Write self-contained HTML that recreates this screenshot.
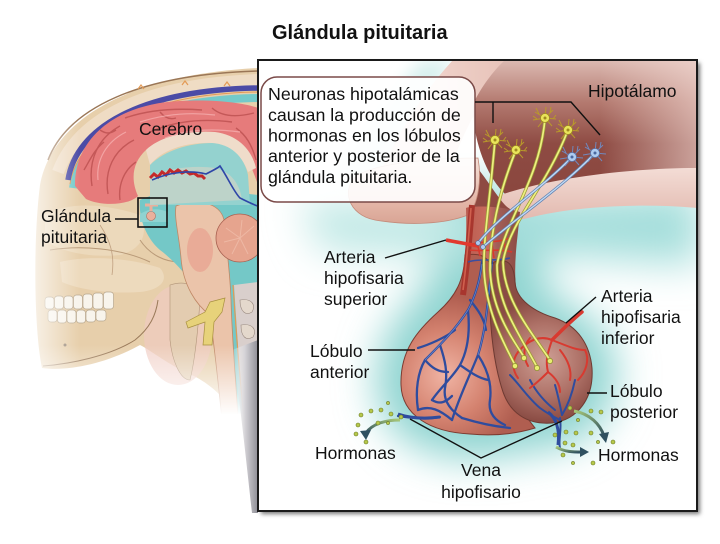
<!DOCTYPE html>
<html><head><meta charset="utf-8">
<style>
html,body{margin:0;padding:0;background:#fff;}
svg{display:block;}
text{font-family:"Liberation Sans",Arial,sans-serif;fill:#111;}
</style></head><body>
<svg width="720" height="544" viewBox="0 0 720 544" xmlns="http://www.w3.org/2000/svg">
<defs>
  <filter id="b20" x="-50%" y="-50%" width="200%" height="200%"><feGaussianBlur stdDeviation="20"/></filter>
  <filter id="b8" x="-50%" y="-50%" width="200%" height="200%"><feGaussianBlur stdDeviation="8"/></filter>
  <filter id="b2" x="-10%" y="-10%" width="120%" height="120%"><feGaussianBlur stdDeviation="2"/></filter>
  <linearGradient id="fadeL" x1="0" x2="1" y1="0" y2="0">
    <stop offset="0" stop-color="#fff" stop-opacity="1"/>
    <stop offset="0.35" stop-color="#fff" stop-opacity="0.8"/>
    <stop offset="1" stop-color="#fff" stop-opacity="0"/>
  </linearGradient>
  <linearGradient id="fadeB" x1="0" x2="0" y1="0" y2="1">
    <stop offset="0" stop-color="#fff" stop-opacity="0"/>
    <stop offset="1" stop-color="#fff" stop-opacity="1"/>
  </linearGradient>
  <linearGradient id="neck" x1="0" x2="1" y1="0" y2="0">
    <stop offset="0" stop-color="#ffffff" stop-opacity="0"/>
    <stop offset="0.5" stop-color="#d4d2d6"/>
    <stop offset="1" stop-color="#8e8e96"/>
  </linearGradient>
  <linearGradient id="hypo" x1="0" x2="0" y1="60" y2="200" gradientUnits="userSpaceOnUse">
    <stop offset="0" stop-color="#dcbab2"/>
    <stop offset="0.3" stop-color="#b47a70"/>
    <stop offset="0.6" stop-color="#8e4b43"/>
    <stop offset="1" stop-color="#8a463e"/>
  </linearGradient>
  <linearGradient id="hypoR" x1="600" x2="697" y1="0" y2="0" gradientUnits="userSpaceOnUse">
    <stop offset="0" stop-color="#f4dcd6" stop-opacity="0"/>
    <stop offset="1" stop-color="#f4dcd6" stop-opacity="0.6"/>
  </linearGradient>
  <linearGradient id="chiasm" x1="0" x2="0" y1="158" y2="224" gradientUnits="userSpaceOnUse">
    <stop offset="0" stop-color="#f5e0d8"/>
    <stop offset="0.5" stop-color="#e9c0b2"/>
    <stop offset="1" stop-color="#d9a494"/>
  </linearGradient>
  <linearGradient id="pale" x1="0" x2="0" y1="168" y2="222" gradientUnits="userSpaceOnUse">
    <stop offset="0" stop-color="#f3dcd5"/>
    <stop offset="1" stop-color="#e2b8ae"/>
  </linearGradient>
  <linearGradient id="pinkband" x1="0" x2="1" y1="0" y2="0">
    <stop offset="0" stop-color="#f4dcd6"/>
    <stop offset="1" stop-color="#e7c2b8"/>
  </linearGradient>
  <radialGradient id="ant" cx="445" cy="375" r="80" gradientUnits="userSpaceOnUse">
    <stop offset="0" stop-color="#f0b4a4"/>
    <stop offset="0.55" stop-color="#d4826f"/>
    <stop offset="1" stop-color="#b05e50"/>
  </radialGradient>
  <radialGradient id="post" cx="545" cy="360" r="62" gradientUnits="userSpaceOnUse">
    <stop offset="0" stop-color="#cfa096"/>
    <stop offset="0.6" stop-color="#ad7066"/>
    <stop offset="1" stop-color="#8a4c44"/>
  </radialGradient>
  <linearGradient id="stalk" x1="462" x2="520" y1="0" y2="0" gradientUnits="userSpaceOnUse">
    <stop offset="0" stop-color="#b85a4e"/>
    <stop offset="0.45" stop-color="#c86c5e"/>
    <stop offset="0.6" stop-color="#a2605a"/>
    <stop offset="1" stop-color="#8c4a42"/>
  </linearGradient>
  <linearGradient id="arrL" x1="1" x2="0" y1="0" y2="1">
    <stop offset="0" stop-color="#a8c878"/>
    <stop offset="1" stop-color="#2f5060"/>
  </linearGradient>
  <linearGradient id="arrR" x1="0" x2="1" y1="0" y2="1">
    <stop offset="0" stop-color="#a8c878"/>
    <stop offset="1" stop-color="#2f5060"/>
  </linearGradient>
  <clipPath id="boxclip"><rect x="259" y="61" width="437" height="449"/></clipPath>
  <g id="ny">
    <path d="M0,0 L-10,-6 M-6,-4 L-9,-10 M0,0 L-12,2 M-8,1 L-12,-2 M0,0 L-7,9 M0,0 L8,-8 M5,-5 L6,-11 M0,0 L11,1 M8,1 L11,-3 M0,0 L7,8 M0,0 L1,-11" stroke="#b9992a" stroke-width="1" fill="none"/>
    <circle r="4.5" fill="#e9e45a" stroke="#9f8a22" stroke-width="0.8"/>
    <circle r="1.5" fill="#a08a20"/>
  </g>
  <g id="nb">
    <path d="M0,0 L-10,-6 M-6,-4 L-9,-10 M0,0 L-12,2 M0,0 L-7,9 M0,0 L8,-8 M5,-5 L6,-11 M0,0 L11,1 M0,0 L7,8 M0,0 L1,-11" stroke="#7188bc" stroke-width="1" fill="none"/>
    <circle r="4.5" fill="#aecbf0" stroke="#5a78b0" stroke-width="0.8"/>
    <circle r="1.5" fill="#4a68a0"/>
  </g>
</defs>

<!-- ================= HEAD (left) ================= -->
<g>
  <path d="M40,185 C50,130 110,76 258,68 L258,420 L238,420 C225,395 205,380 185,372 C165,362 150,350 140,345 C110,362 70,372 42,368 C34,330 33,240 40,185 Z" fill="#e7cfab"/>
  <path d="M45,215 C70,200 110,205 140,215 C150,235 140,250 120,255 C90,258 60,252 45,240 Z" fill="#eedbbf" opacity="0.8"/>
  <path d="M60,262 C90,255 130,258 160,268 C170,280 160,290 140,292 C110,294 80,290 62,282 Z" fill="#efdcc2" opacity="0.8"/>
  <path d="M50,250 C80,245 120,248 150,262" stroke="#b99a78" stroke-width="1" fill="none"/>
  <path d="M100,225 C110,240 115,255 112,275" stroke="#c0a080" stroke-width="0.8" fill="none"/>
  <path d="M140,240 C150,255 165,262 180,262" stroke="#b99a78" stroke-width="1" fill="none"/>
  <ellipse cx="178" cy="335" rx="34" ry="50" fill="#f0cbc0" opacity="0.7"/>
  <path d="M58,172 C78,118 145,84 258,80" stroke="#efdcc4" stroke-width="12" fill="none"/>
  <path d="M48,160 C68,108 140,74 258,71" stroke="#9a7656" stroke-width="1.5" fill="none"/>
  <path d="M73,188 C80,138 142,100 258,98" stroke="#74caca" stroke-width="8" fill="none"/>
  <path d="M70,184 C78,134 140,94 258,92" stroke="#e39a55" stroke-width="1" fill="none"/>
  <path d="M68,180 C76,128 140,90 258,88" stroke="#4b4ba6" stroke-width="5.5" fill="none"/>
  <path d="M138,89 l3,-4 l3,4 M182,85 l3,-4 l3,4 M224,86 l3,-4 l3,4" stroke="#e39a55" stroke-width="1.2" fill="none"/>
  <path d="M140,200 C160,190 200,188 258,195 L258,420 L240,420 C232,390 222,350 212,320 C200,290 180,265 160,250 C148,240 138,220 140,200 Z" fill="#74c8c7"/>
  <path d="M234,285 L258,282 L258,420 L244,420 C240,380 237,330 234,285 Z" fill="#d9cfcc"/>
  <path d="M240,300 C252,298 256,305 252,312 C246,316 240,312 240,300 Z M241,325 C253,323 257,330 253,337 C246,341 241,337 241,325 Z" fill="#e4d8cc" stroke="#9a8a80" stroke-width="0.6"/>
  <path d="M233,285 C236,330 240,380 244,420" stroke="#e39a55" stroke-width="1.2" fill="none"/>
  <path d="M170,285 C185,280 200,285 200,300 C198,330 195,360 190,380 C180,380 172,360 170,340 Z" fill="#e3ccb0" stroke="#b09478" stroke-width="0.6"/>
  <path d="M176,206 C196,198 220,202 224,220 C226,245 230,270 231,300 C232,340 236,380 238,420 L222,420 C218,380 214,345 210,315 C196,305 183,285 181,258 C179,235 174,218 176,206 Z" fill="#ebc4aa" stroke="#c08866" stroke-width="0.8"/>
  <ellipse cx="200" cy="250" rx="13" ry="22" fill="#e8a592" opacity="0.8"/>
  <path d="M210,302 L225,298 L222,312 L214,322 L212,345 L203,345 L205,322 L188,328 L186,322 L205,312 Z" fill="#e7d27a" stroke="#a89040" stroke-width="0.7"/>
  <circle cx="240" cy="238" r="24" fill="#e6a48e" stroke="#a86050" stroke-width="0.8"/>
  <path d="M240,238 l-14,-10 M240,238 l-16,4 M240,238 l-8,16 M240,238 l8,16 M240,238 l14,-12 M240,238 l2,-18" stroke="#eeb8a4" stroke-width="1"/>
  <path d="M140,214 C150,208 158,208 168,212 L168,222 L140,222 Z" fill="#8fd3d1"/>
  <circle cx="151" cy="216" r="4.5" fill="#eab09c" stroke="#b07060" stroke-width="0.6"/>
  <path d="M151,211 L151,205 M145,205 L158,205" stroke="#eab09c" stroke-width="3"/>
  <!-- brain -->
  <path d="M75,186 C74,140 114,104 180,101 C215,99 245,103 258,108 L258,185 C252,168 246,150 230,140 C205,128 166,132 146,150 C133,162 130,178 138,196 C128,206 100,206 86,199 Z" fill="#e67b7b"/>
  <g stroke="#c45858" stroke-width="1.4" fill="none">
    <path d="M92,186 C88,160 98,138 120,126"/>
    <path d="M108,194 C104,170 114,150 134,140"/>
    <path d="M125,118 C148,110 175,108 202,110"/>
    <path d="M150,132 C172,122 200,118 232,122"/>
    <path d="M212,108 C222,117 238,117 254,113"/>
    <path d="M84,170 C90,160 94,150 104,142"/>
    <path d="M236,128 C246,135 252,145 256,160"/>
    <path d="M120,200 C118,185 124,170 136,162"/>
    <path d="M160,112 C165,118 170,120 176,118"/>
    <path d="M100,130 C106,134 110,134 116,130"/>
  </g>
  <g stroke="#f4a8a8" stroke-width="1.2" fill="none" opacity="0.9">
    <path d="M98,180 C96,160 106,142 126,132"/>
    <path d="M140,122 C165,114 190,112 215,115"/>
    <path d="M165,138 C185,130 210,128 240,132"/>
  </g>
  <path d="M146,150 C160,136 190,130 215,132 C238,135 252,150 256,168 L248,172 C242,155 228,144 212,143 C185,142 162,150 150,165 Z" fill="#efdcca"/>
  <path d="M150,165 C165,150 190,143 212,143 C230,144 244,156 248,175 L250,205 L150,205 Z" fill="#94d2cf"/>
  <path d="M150,176 C168,168 195,165 215,168 C232,172 240,185 242,200 L150,205 Z" fill="#e6d3c4" opacity="0.5"/>
  <path d="M150,178 l4,-4 l4,3 l4,-5 l4,3 l4,-5 l4,3 l4,-3 l4,3 l4,-2 l4,3 l4,-1 l4,3 l4,0 l3,3" stroke="#c42a2a" stroke-width="3" fill="none"/>
  <path d="M152,180 C170,172 190,170 206,174 C214,170 218,168 220,166 C228,178 234,192 240,198 C248,202 254,205 258,206" stroke="#2e46a8" stroke-width="1.6" fill="none"/>
  <g fill="#f8f4ec" stroke="#b8a890" stroke-width="0.7">
    <rect x="45" y="297" width="9" height="12" rx="3"/><rect x="54.5" y="296" width="9" height="13" rx="3"/>
    <rect x="64" y="296" width="9" height="13" rx="3"/><rect x="73.5" y="295" width="9" height="14" rx="3"/>
    <rect x="83" y="294" width="9.5" height="15" rx="3"/><rect x="93" y="293" width="10" height="16" rx="3"/>
    <rect x="103.5" y="292" width="10" height="17" rx="3"/>
    <rect x="48" y="310" width="9" height="12" rx="3"/><rect x="57.5" y="310" width="9" height="13" rx="3"/>
    <rect x="67" y="310" width="9" height="13" rx="3"/><rect x="76.5" y="310" width="9" height="13" rx="3"/>
    <rect x="86" y="310" width="9.5" height="12" rx="3"/><rect x="96" y="310" width="10" height="11" rx="3"/>
  </g>
  <path d="M43,366 C70,364 110,356 135,340 C150,328 156,315 158,300" stroke="#9a7a5a" stroke-width="1" fill="none"/>
  <circle cx="65" cy="345" r="1.5" fill="#9a8a7a"/>
  <rect x="0" y="60" width="80" height="340" fill="url(#fadeL)"/>
  <rect x="0" y="345" width="246" height="70" fill="url(#fadeB)"/>
  <rect x="0" y="414" width="246" height="130" fill="#fff"/>
  <path d="M232,350 L258,340 L258,513 L252,513 C246,460 240,400 232,350 Z" fill="url(#neck)"/>
  <rect x="138" y="198" width="29" height="29" fill="none" stroke="#111" stroke-width="1.6"/>
  <line x1="115" y1="219" x2="138" y2="219" stroke="#111" stroke-width="1.4"/>
</g>

<!-- ================= INSET BOX ================= -->
<rect x="261" y="63" width="439" height="451" fill="#777" filter="url(#b2)"/>
<rect x="258" y="60" width="439" height="451" fill="#fff"/>
<g clip-path="url(#boxclip)">
  <g filter="url(#b20)">
    <path d="M466,205 C468,250 460,285 440,308 C418,330 400,350 401,385 C402,415 430,433 470,434 C500,435 515,430 525,425 C535,428 545,425 555,423 C585,415 598,385 588,355 C575,330 540,320 525,305 C515,285 518,250 520,215 Z" fill="#8ed4d0" stroke="#8ed4d0" stroke-width="50"/>
    <path d="M470,200 L700,190 L700,265 L470,250 Z" fill="#a4dedb"/>
    <path d="M300,200 L470,205 L470,260 L320,250 Z" fill="#bfe8e5"/>
  </g>
  <path d="M420,60 L455,60 L380,180 L330,180 Z" fill="#d8f0ee" filter="url(#b8)"/>
  <path d="M453,60 L512,60 C490,85 465,125 450,170 L380,172 C400,130 425,90 453,60 Z" fill="url(#pinkband)"/>
  <path d="M505,60 L697,60 L697,178 C640,174 560,182 510,198 C485,180 470,130 474,102 C482,86 494,70 505,60 Z" fill="url(#hypo)"/>
  <rect x="600" y="60" width="97" height="130" fill="url(#hypoR)"/>
  <path d="M492,198 C545,178 630,168 697,168 L697,208 C640,203 575,206 528,218 C510,223 496,214 492,198 Z" fill="url(#pale)"/>
  <path d="M470,160 C485,175 492,190 505,205 C510,210 515,212 520,215 L468,215 Z" fill="#8e4a42"/>
  <path d="M478,158 C440,158 380,162 358,175 C340,188 348,215 375,220 C410,226 445,224 468,215 C478,205 482,180 478,158 Z" fill="url(#chiasm)" stroke="#c48a7a" stroke-width="0.8"/>

  <!-- stalk -->
  <path d="M466,208 C470,206 500,205 520,212 C517,245 512,270 518,300 L458,300 C465,270 467,240 466,208 Z" fill="url(#stalk)"/>
  <!-- anterior lobe -->
  <path d="M465,255 C485,252 494,258 494,290 C494,330 500,385 535,428 C512,435 490,436 470,434 C430,432 402,415 401,385 C400,350 418,330 438,312 C456,296 464,280 465,255 Z" fill="url(#ant)" stroke="#7c3a30" stroke-width="1"/>
  <!-- posterior lobe -->
  <path d="M494,262 C506,258 514,262 515,282 C516,300 535,312 555,318 C578,326 590,345 592,368 C594,398 578,420 552,423 C526,425 510,412 503,392 C494,365 490,330 490,300 C490,285 489,270 494,262 Z" fill="url(#post)" stroke="#6e3a32" stroke-width="1"/>
  <path d="M472,205 C470,230 468,260 463,295" stroke="#a8362e" stroke-width="6" fill="none"/>
  <path d="M471,208 C469,232 467,260 463,290" stroke="#d0604e" stroke-width="1.6" fill="none"/>
  <path d="M446,240 C456,242 468,244 478,246" stroke="#e2392e" stroke-width="3.5" fill="none"/>
  <g stroke="#d83a2e" stroke-width="1.6" fill="none">
    <path d="M468,246 C480,240 495,244 510,238"/>
    <path d="M470,250 C482,252 495,248 512,252"/>
    <path d="M478,246 L480,256 M492,244 L494,258 M504,240 L506,254"/>
  </g>
  <g stroke="#3a4ea0" stroke-width="1.6" fill="none">
    <path d="M468,262 C480,258 495,262 510,258"/>
  </g>
  <g stroke="#2f4c9e" stroke-width="2.3" fill="none" stroke-linecap="round">
    <path d="M482,262 C480,280 476,295 468,310 C455,330 440,345 425,360 C418,372 415,390 418,410"/>
    <path d="M492,262 C488,300 486,330 478,355 C470,375 460,395 452,420"/>
    <path d="M468,310 C470,330 468,350 460,365 C452,378 440,388 432,400"/>
    <path d="M440,345 C445,360 448,372 445,388 C443,400 450,410 462,418"/>
    <path d="M478,355 C488,370 492,385 490,400 C488,412 494,420 505,425"/>
    <path d="M425,360 C432,368 438,372 448,372"/>
    <path d="M460,365 C470,372 478,378 488,380"/>
    <path d="M418,410 C430,405 440,410 452,420"/>
    <path d="M432,400 C440,405 446,402 452,396"/>
    <path d="M470,300 C478,310 484,318 486,330"/>
    <path d="M455,330 C445,338 428,345 418,348"/>
    <path d="M462,418 C475,422 490,426 510,428"/>
    <path d="M440,417 C425,420 412,418 398,416"/>
  </g>
  <g stroke="#7e98d8" stroke-width="0.7" fill="none" opacity="0.8">
    <path d="M482,264 C480,280 476,295 468,310 C455,330 440,345 425,360"/>
    <path d="M492,264 C488,300 486,330 478,355"/>
  </g>
  <g stroke="#2f4c9e" stroke-width="2" fill="none" stroke-linecap="round">
    <path d="M510,375 C520,385 528,398 540,408 C548,414 556,418 560,420"/>
    <path d="M530,380 C536,392 545,402 555,410"/>
    <path d="M555,385 C558,395 560,405 562,415"/>
    <path d="M575,380 C572,395 568,405 562,415"/>
    <path d="M560,418 C562,430 558,440 560,448"/>
  </g>
  <g stroke="#d83a30" stroke-width="2" fill="none" stroke-linecap="round">
    <path d="M582,312 C572,320 562,330 552,340" stroke-width="3.5"/>
    <path d="M552,340 C540,335 528,340 518,352"/>
    <path d="M552,340 C548,352 545,360 548,372"/>
    <path d="M552,340 C565,345 575,350 585,350"/>
    <path d="M530,338 C524,345 522,355 528,366"/>
    <path d="M518,352 C512,360 512,370 518,378"/>
    <path d="M585,350 C590,360 586,372 578,380"/>
    <path d="M560,350 C568,360 572,370 570,380"/>
    <path d="M548,372 C540,380 534,385 530,388"/>
    <path d="M548,372 C556,378 560,385 560,392"/>
  </g>
  <g fill="none" stroke-linecap="round">
    <g stroke="#9a9a34" stroke-width="3.2">
      <path d="M495,140 C490,200 483,240 484,270 C486,310 502,340 515,365"/>
      <path d="M516,150 C500,190 490,230 490,270 C492,310 510,335 524,357"/>
      <path d="M545,118 C540,180 505,220 497,265 C497,305 520,335 537,367"/>
      <path d="M568,130 C545,190 510,220 503,262 C504,300 530,330 550,360"/>
    </g>
    <g stroke="#eef080" stroke-width="1.7">
      <path d="M495,140 C490,200 483,240 484,270 C486,310 502,340 515,365"/>
      <path d="M516,150 C500,190 490,230 490,270 C492,310 510,335 524,357"/>
      <path d="M545,118 C540,180 505,220 497,265 C497,305 520,335 537,367"/>
      <path d="M568,130 C545,190 510,220 503,262 C504,300 530,330 550,360"/>
    </g>
  </g>
  <g fill="#e8ee70" stroke="#8a8a2a" stroke-width="0.7">
    <circle cx="515" cy="366" r="2.6"/><circle cx="524" cy="358" r="2.6"/>
    <circle cx="537" cy="368" r="2.6"/><circle cx="550" cy="361" r="2.6"/>
  </g>
  <g fill="none" stroke-linecap="round">
    <path d="M572,157 C540,190 500,215 478,243" stroke="#5f7fb0" stroke-width="2.8"/>
    <path d="M595,153 C565,185 520,215 483,247" stroke="#5f7fb0" stroke-width="2.8"/>
    <path d="M572,157 C540,190 500,215 478,243" stroke="#c0daf4" stroke-width="1.4"/>
    <path d="M595,153 C565,185 520,215 483,247" stroke="#c0daf4" stroke-width="1.4"/>
  </g>
  <circle cx="478" cy="243" r="2.3" fill="#aecbf0" stroke="#4a68a0" stroke-width="0.6"/>
  <circle cx="483" cy="247" r="2.3" fill="#aecbf0" stroke="#4a68a0" stroke-width="0.6"/>
  <use href="#ny" x="495" y="140"/>
  <use href="#ny" x="516" y="150"/>
  <use href="#ny" x="545" y="118"/>
  <use href="#ny" x="568" y="130"/>
  <use href="#nb" x="572" y="157"/>
  <use href="#nb" x="595" y="153"/>

  <path d="M440,417 C425,419 410,418 398,414" stroke="#2f4c9e" stroke-width="3" fill="none"/>
  <path d="M548,412 C556,418 560,428 558,445" stroke="#2f4c9e" stroke-width="3" fill="none"/>
  <path d="M400,420 C385,420 372,424 366,433" stroke="url(#arrL)" stroke-width="3" fill="none"/>
  <path d="M360,431 L366,440 L371,430 Z" fill="#2f5060"/>
  <path d="M574,411 C590,414 600,424 604,436" stroke="url(#arrR)" stroke-width="3" fill="none"/>
  <path d="M599,434 L606,443 L609,432 Z" fill="#2f5060"/>
  <path d="M556,447 C565,452 573,452 582,452" stroke="url(#arrR)" stroke-width="3" fill="none"/>
  <path d="M580,447 L589,452 L580,457 Z" fill="#2f5060"/>
  <g fill="#b6c84a" stroke="#6a7a28" stroke-width="0.6">
    <circle cx="361" cy="415" r="2"/><circle cx="371" cy="411" r="2"/><circle cx="381" cy="410" r="2"/>
    <circle cx="391" cy="414" r="2"/><circle cx="401" cy="417" r="2"/><circle cx="358" cy="425" r="2"/>
    <circle cx="378" cy="423" r="2"/><circle cx="388" cy="423" r="1.6"/><circle cx="356" cy="434" r="2"/>
    <circle cx="366" cy="442" r="2"/><circle cx="388" cy="403" r="1.6"/>
    <circle cx="570" cy="408" r="2"/><circle cx="591" cy="411" r="2"/><circle cx="601" cy="412" r="2"/>
    <circle cx="578" cy="420" r="1.6"/><circle cx="555" cy="435" r="2"/><circle cx="566" cy="432" r="2"/>
    <circle cx="576" cy="433" r="2"/><circle cx="591" cy="433" r="2"/><circle cx="613" cy="442" r="2"/>
    <circle cx="565" cy="443" r="2"/><circle cx="573" cy="445" r="2"/><circle cx="563" cy="455" r="2"/>
    <circle cx="573" cy="463" r="1.6"/><circle cx="593" cy="463" r="2"/><circle cx="598" cy="442" r="1.6"/>
  </g>

  <rect x="261" y="77" width="214" height="125" rx="16" fill="#fff" fill-opacity="0.9" stroke="#7a4a48" stroke-width="1.5"/>
</g>
<rect x="258" y="60" width="439" height="451" fill="none" stroke="#1a1a1a" stroke-width="2"/>

<g stroke="#111" stroke-width="1.4" fill="none">
  <polyline points="475,102 571,102 600,135"/>
  <line x1="493" y1="102" x2="493" y2="123"/>
  <line x1="385" y1="258" x2="446" y2="240"/>
  <line x1="368" y1="350" x2="415" y2="350"/>
  <line x1="596" y1="297" x2="566" y2="323"/>
  <line x1="587" y1="393" x2="607" y2="393"/>
  <polyline points="410,419 481,458 562,421"/>
</g>

<text x="272" y="39" font-size="20" font-weight="bold">Glándula pituitaria</text>
<text x="139" y="135" font-size="17.5">Cerebro</text>
<text x="41" y="222" font-size="17.5">Glándula</text>
<text x="41" y="243" font-size="17.5">pituitaria</text>
<g font-size="17.8">
  <text x="268" y="100">Neuronas hipotalámicas</text>
  <text x="268" y="121">causan la producción de</text>
  <text x="268" y="141.5">hormonas en los lóbulos</text>
  <text x="268" y="162">anterior y posterior de la</text>
  <text x="268" y="183">glándula pituitaria.</text>
</g>
<g font-size="17.5">
  <text x="588" y="97">Hipotálamo</text>
  <text x="324" y="263">Arteria</text>
  <text x="324" y="284">hipofisaria</text>
  <text x="324" y="305">superior</text>
  <text x="310" y="357">Lóbulo</text>
  <text x="310" y="378">anterior</text>
  <text x="601" y="302">Arteria</text>
  <text x="601" y="323">hipofisaria</text>
  <text x="601" y="344">inferior</text>
  <text x="610" y="397">Lóbulo</text>
  <text x="610" y="418">posterior</text>
  <text x="315" y="459">Hormonas</text>
  <text x="598" y="461">Hormonas</text>
  <text x="481" y="476" text-anchor="middle">Vena</text>
  <text x="481" y="498" text-anchor="middle">hipofisario</text>
</g>
</svg>
</body></html>
